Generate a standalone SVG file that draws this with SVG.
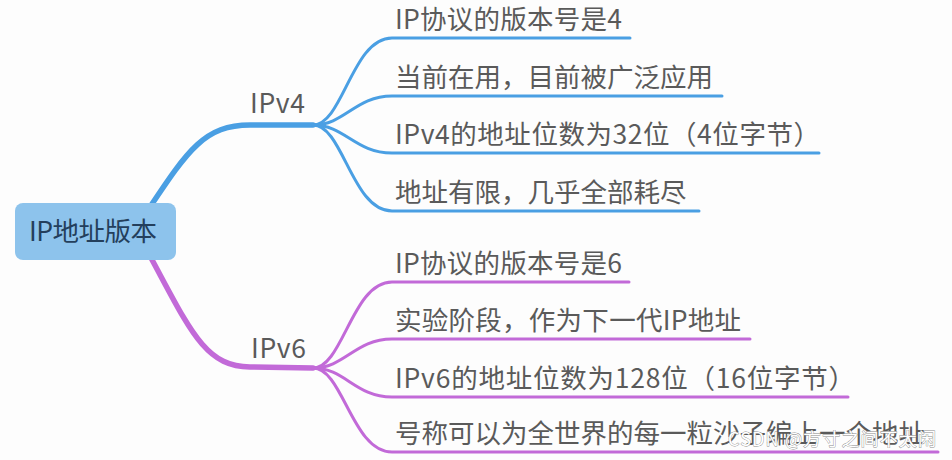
<svg xmlns="http://www.w3.org/2000/svg" width="952" height="460" viewBox="0 0 952 460">
<style>
.t{font-family:"Noto Sans CJK SC","Noto Sans",sans-serif;font-size:26.5px;fill:#5a5a5a}
.b{fill:none;stroke:#4a9fe3;stroke-linecap:round}
.p{fill:none;stroke:#c26ad8;stroke-linecap:round}
.thin{stroke-width:3}
.thick{stroke-width:5.5}
.wm{font-family:"Noto Sans CJK SC","Noto Sans",sans-serif;font-size:18px;fill:#ffffff;stroke:#8a8a8a;stroke-width:0.8;paint-order:stroke}
</style>
<rect width="952" height="460" fill="#fdfdfd"/>
<g id="connectors">
  <path class="b thick" d="M150,207 C188,150 205,125 250,125 L313,125"/>
  <path class="p thick" d="M150,256 C190,330 205,367 250,367 L313,368"/>
  <path class="b thin" d="M313,125 C343,125 352,38 392,38 L630,38"/>
  <path class="b thin" d="M313,125 C345,125 355,96 392,96 L722,96"/>
  <path class="b thin" d="M313,125 C345,125 355,153 392,153 L819,153"/>
  <path class="b thin" d="M313,125 C343,125 352,211 392,211 L699,211"/>
  <path class="p thin" d="M313,368 C343,368 352,282 392,282 L629,282"/>
  <path class="p thin" d="M313,368 C345,368 355,339 392,339 L750,339"/>
  <path class="p thin" d="M313,368 C345,368 355,397 392,397 L848,397"/>
  <path class="p thin" d="M313,368 C343,368 352,452 392,452 L938,452"/>
</g>
<g id="root">
  <rect x="15" y="203" width="161" height="57" rx="8" fill="#8dc3ec"/>
  <text x="29" y="241" textLength="128" class="t" style="fill:#243f5c">IP地址版本</text>
</g>
<g id="ipv4"><text x="250" y="113" textLength="55" class="t">IPv4</text></g>
<g id="ipv6"><text x="251" y="358" textLength="55" class="t">IPv6</text></g>
<g id="v4a"><text x="395" y="29" textLength="227" class="t">IP协议的版本号是4</text></g>
<g id="v4b"><text x="395" y="87" class="t">当前在用，目前被广泛应用</text></g>
<g id="v4c"><text x="395" y="144" textLength="425" class="t">IPv4的地址位数为32位（4位字节）</text></g>
<g id="v4d"><text x="395" y="202" class="t">地址有限，几乎全部耗尽</text></g>
<g id="v6a"><text x="395" y="273" textLength="227" class="t">IP协议的版本号是6</text></g>
<g id="v6b"><text x="395" y="330" textLength="346" class="t">实验阶段，作为下一代IP地址</text></g>
<g id="v6c"><text x="395" y="388" textLength="460" class="t">IPv6的地址位数为128位（16位字节）</text></g>
<g id="v6d"><text x="395" y="443" class="t">号称可以为全世界的每一粒沙子编上一个地址</text></g>
<text x="728" y="446" textLength="208" class="wm">CSDN @方寸之间不太闲</text>
</svg>
